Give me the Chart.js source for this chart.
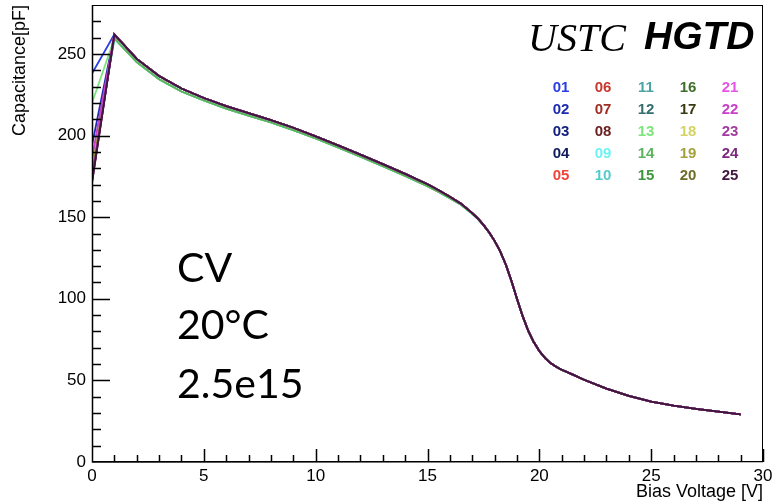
<!DOCTYPE html>
<html>
<head>
<meta charset="utf-8">
<script src="https://cdn.jsdelivr.net/npm/chart.js@4.4.1/dist/chart.umd.min.js"></script>
<style>
  html, body { margin: 0; padding: 0; background: #fff; }
  #wrap { position: relative; width: 777px; height: 503px; }
  #cv { position: absolute; left: 0; top: 0; }
  .brand { position: absolute; top: 14px; white-space: nowrap; color: #000; }
  .ustc { left: 528px; font: italic 40px "Liberation Serif", serif; }
  .hgtd { left: 644px; font: italic bold 39px "Liberation Sans", sans-serif; }
  .lab { position: absolute; width: 30px; margin-left: -15px; text-align: center;
         font: bold 15px "Liberation Sans", sans-serif; line-height: 18px; }
  .note { position: absolute; left: 177px; font: 41px Lato, sans-serif; color: #000; line-height: 50px; }
</style>
</head>
<body>
<div id="wrap">
  <canvas id="cv" width="777" height="503"></canvas>
  <div class="brand ustc">USTC</div>
  <div class="brand hgtd">HGTD</div>
  <div id="legend"></div>
  <div class="note" style="top:242px">CV</div>
  <div class="note" style="top:299px">20°C</div>
  <div class="note" style="top:358px">2.5e15</div>
</div>
<script>
// sensor labels and their ROOT-ish colours
const sensors = ['01','02','03','04','05','06','07','08','09','10','11','12','13',
                 '14','15','16','17','18','19','20','21','22','23','24','25'];
const colors = ['#2a3ee6','#1c2cb0','#14207e','#101a5c','#f0443a',
                '#c8382c','#a02c24','#6c2020','#70f2f2','#56caca',
                '#4aa4a4','#346e6e','#7ae67a','#5cb45c','#3e963e',
                '#3e6e2a','#3a3a16','#d4d466','#a2a23e','#6e6e2a',
                '#e854e8','#c840c8','#a03ca0','#7a2a7a','#3e163e'];

// bias voltage points [V]
const voltages = [0,1,2,3,4,5,6,7,8,9,10,11,12,13,14,15,15.5,16,16.5,
                  17,17.25,17.5,17.75,18,18.25,18.5,18.75,19,19.25,19.5,19.75,
                  20,20.25,20.5,20.75,21,21.5,22,23,24,25,26,27,28,29];

// capacitance at 0 V, one per sensor [pF]
const capAt0 = [238,194,184,180,176,178,174,172,182,179,177,175,220,181,176,
                174,173,179,177,175,172,186,171,173,171];

// common curve from 1 V on [pF]
const capMain = [262,247,236.5,228.8,223,218,213.7,209.5,204.8,199.5,194,188.3,
                 182.5,176.5,170.2,166.5,162.5,158.3,
                 152.5,149.2,145.3,140.8,135.5,129,121,111,100,89.5,80.5,73.5,
                 68,63.8,60.6,58.3,56.5,53.5,50.4,45,40.5,37,34.5,32.5,30.8,29.2];
// slightly lower curve of the lighter sensors
const capLight = [259.5,245,234.5,227,221.5,216.5,212.2,208,203.3,198.2,192.7,187,
                  181.3,175.3,169,165.5,161.6,157.6,
                  152,149,145.2,140.8,135.5,129,121,111,100,89.5,80.5,73.5,
                  68,63.8,60.6,58.3,56.5,53.5,50.4,45,40.5,37,34.5,32.5,30.8,29.2];
const lightOnes = ['09','10','11','13','14'];

const xMajor = [0,5,10,15,20,25,30];
const yMajor = [0,50,100,150,200,250];

// legend grid (5 columns, column-major)
const legendEl = document.getElementById('legend');
const colX = [561,603,646,688,730];
const rowY = [78,100,122,144,166];
sensors.forEach((s, i) => {
  const d = document.createElement('div');
  d.className = 'lab';
  d.textContent = s;
  d.style.color = colors[i];
  d.style.left = colX[Math.floor(i / 5)] + 'px';
  d.style.top = rowY[i % 5] + 'px';
  legendEl.appendChild(d);
});

// reversed so that sensor 25 ends up drawn on top
const datasets = sensors.map((s, i) => {
  const rest = lightOnes.includes(s) ? capLight : capMain;
  const ys = [capAt0[i], ...rest];
  return {
    label: s,
    data: voltages.map((v, k) => ({ x: v, y: ys[k] })),
    borderColor: colors[i],
    borderWidth: 1.8,
    pointRadius: 0,
    tension: 0,
    fill: false
  };
}).reverse();

// ROOT-style frame with inward ticks
const rootFrame = {
  id: 'rootFrame',
  afterDatasetsDraw(chart) {
    const { ctx, chartArea: a, scales: { x, y } } = chart;
    ctx.save();
    ctx.strokeStyle = '#000';
    ctx.lineWidth = 1;
    ctx.strokeRect(a.left + 0.5, a.top + 0.5, a.right - a.left - 1, a.bottom - a.top - 1);
    ctx.lineWidth = 1.5;
    ctx.beginPath();
    ctx.moveTo(a.left + 0.5, a.top);
    ctx.lineTo(a.left + 0.5, a.bottom);
    ctx.lineTo(a.right, a.bottom - 0.5);
    for (let v = 0; v <= 30; v++) {
      const px = Math.round(x.getPixelForValue(v)) + 0.5;
      const len = v % 5 === 0 ? 13 : 7;
      ctx.moveTo(px, a.bottom);
      ctx.lineTo(px, a.bottom - len);
    }
    for (let c = 10; c <= 270; c += 10) {
      const py = Math.round(y.getPixelForValue(c)) + 0.5;
      const len = c % 50 === 0 ? 18 : 9;
      ctx.moveTo(a.left, py);
      ctx.lineTo(a.left + len, py);
    }
    ctx.stroke();
    ctx.restore();
  }
};

const noPad = ax => { ax.paddingTop = 0; ax.paddingBottom = 0; ax.paddingLeft = 0; ax.paddingRight = 0; };

new Chart(document.getElementById('cv'), {
  type: 'line',
  data: { datasets },
  options: {
    responsive: false,
    animation: false,
    layout: { padding: { top: 5, right: 14, left: 0, bottom: 0 } },
    plugins: { legend: { display: false }, tooltip: { enabled: false } },
    scales: {
      x: {
        type: 'linear', min: 0, max: 30,
        afterBuildTicks: ax => { ax.ticks = xMajor.map(v => ({ value: v })); },
        afterFit: ax => { ax.height = 41; noPad(ax); },
        grid: { display: false, drawTicks: false },
        border: { display: false },
        ticks: { padding: 4, color: '#000', font: { family: 'Liberation Sans', size: 17 } },
        title: { display: true, text: 'Bias Voltage [V]', align: 'end', color: '#000',
                 padding: { top: 0, bottom: 0 },
                 font: { family: 'Liberation Sans', size: 18 } }
      },
      y: {
        type: 'linear', min: 0, max: 280,
        afterBuildTicks: ax => { ax.ticks = yMajor.map(v => ({ value: v })); },
        afterFit: ax => { ax.width = 92; noPad(ax); },
        grid: { display: false, drawTicks: false },
        border: { display: false },
        ticks: { padding: 6, color: '#000', font: { family: 'Liberation Sans', size: 17 } },
        title: { display: true, text: 'Capacitance[pF]', align: 'end', color: '#000',
                 padding: { top: 9, bottom: 0 },
                 font: { family: 'Liberation Sans', size: 18 } }
      }
    }
  },
  plugins: [rootFrame]
});
</script>
</body>
</html>
